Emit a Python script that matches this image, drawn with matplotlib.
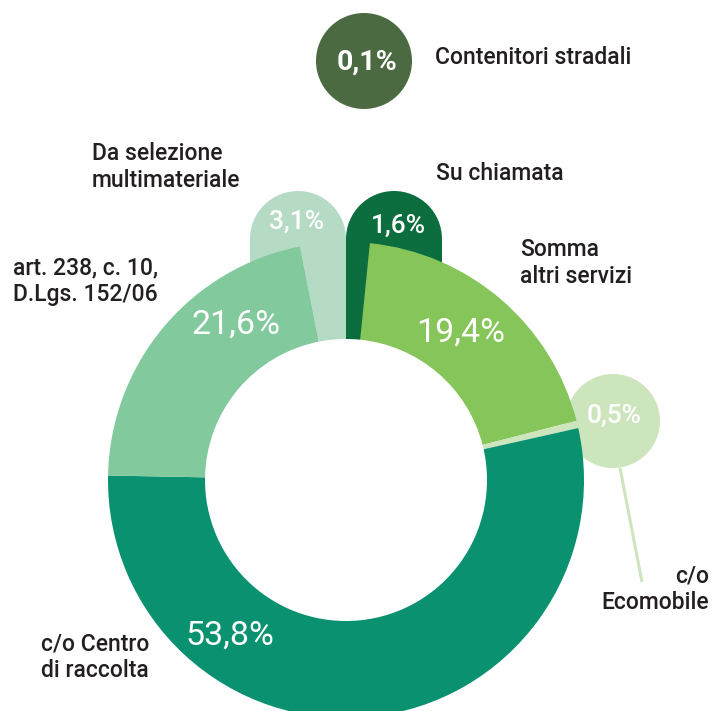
import matplotlib
matplotlib.use("Agg")
import matplotlib.pyplot as plt
from matplotlib.patches import Circle, Rectangle

# ---- data ----
categories = ["Su chiamata", "Somma\naltri servizi", "c/o\nEcomobile",
              "c/o Centro\ndi raccolta", "art. 238, c. 10,\nD.Lgs. 152/06",
              "Da selezione\nmultimateriale", "Contenitori stradali"]
values = [1.6, 19.4, 0.5, 53.8, 21.6, 3.1, 0.1]
colors = ["#0c6e3e", "#86c55a", "#cde5bd", "#0a9170", "#82c99e", "#b5dbc5", "#4b6a41"]

W, H = 713, 711
plt.rcParams['font.family'] = ['Roboto', 'DejaVu Sans']
fig = plt.figure(figsize=(W / 100, H / 100), dpi=100)
ax = fig.add_axes([0, 0, 1, 1])

def Y(y):
    return H - y

def pct(v):
    return f"{v:.1f}%".replace(".", ",")

cx, cy = 346, Y(480)
R, ring = 238, 97
bub_r = 48

ring_vals = values[:6]
ring_cols = colors[:6]
ax.pie(ring_vals, startangle=90, counterclock=False, radius=R, center=(cx, cy),
       colors=ring_cols, frame=True,
       wedgeprops=dict(width=ring, linewidth=0, zorder=3))

# bubbles for small slices (drawn below the ring)
ax.add_patch(Circle((394, Y(239)), bub_r, color=colors[0], lw=0, zorder=1))
ax.add_patch(Rectangle((346, Y(339)), 2 * bub_r, 100, color=colors[0], lw=0, zorder=1))
ax.add_patch(Circle((298, Y(239)), bub_r, color=colors[5], lw=0, zorder=1))
ax.add_patch(Rectangle((346 - 2 * bub_r, Y(339)), 2 * bub_r, 100, color=colors[5], lw=0, zorder=1))
ax.add_patch(Circle((613, Y(421)), 47, color=colors[2], lw=0, zorder=1))
ax.plot([620, 642], [Y(468), Y(582)], color=colors[2], lw=2.2, zorder=1,
        solid_capstyle='butt')
ax.add_patch(Circle((364, Y(61)), bub_r, color=colors[6], lw=0, zorder=1))

# percentage labels
big = dict(color="white", fontsize=24.5, ha="center", va="center", zorder=5)
small = dict(color="white", fontsize=19, ha="center", va="center", zorder=5,
             fontweight="medium")
ax.text(398, Y(226), pct(values[0]), **small)
ax.text(461, Y(333), pct(values[1]), **big)
ax.text(614, Y(416), pct(values[2]), **small)
ax.text(230, Y(636), pct(values[3]), **big)
ax.text(236, Y(325), pct(values[4]), **big)
ax.text(297, Y(222), pct(values[5]), **small)
ax.text(367, Y(62), pct(values[6]), color="white", fontsize=20.5, ha="center",
        va="center", zorder=5, fontweight="bold")

# category labels
lab = dict(color="#231f20", fontsize=16.5, va="center", linespacing=1.2,
           fontweight="medium")
ax.text(436, Y(173), categories[0], ha="left", **lab)
ax.text(520, Y(263), categories[1], ha="left", **lab)
ax.text(709, Y(589), categories[2], ha="right", multialignment="right", **lab)
ax.text(41, Y(657), categories[3], ha="left", **lab)
ax.text(13, Y(281), categories[4], ha="left", **lab)
ax.text(92, Y(167), categories[5], ha="left", **lab)
ax.text(435, Y(57), categories[6], ha="left", **lab)

ax.set_xlim(0, W)
ax.set_ylim(0, H)
ax.set_aspect("equal")
ax.axis("off")
fig.savefig("out.png", dpi=100)
